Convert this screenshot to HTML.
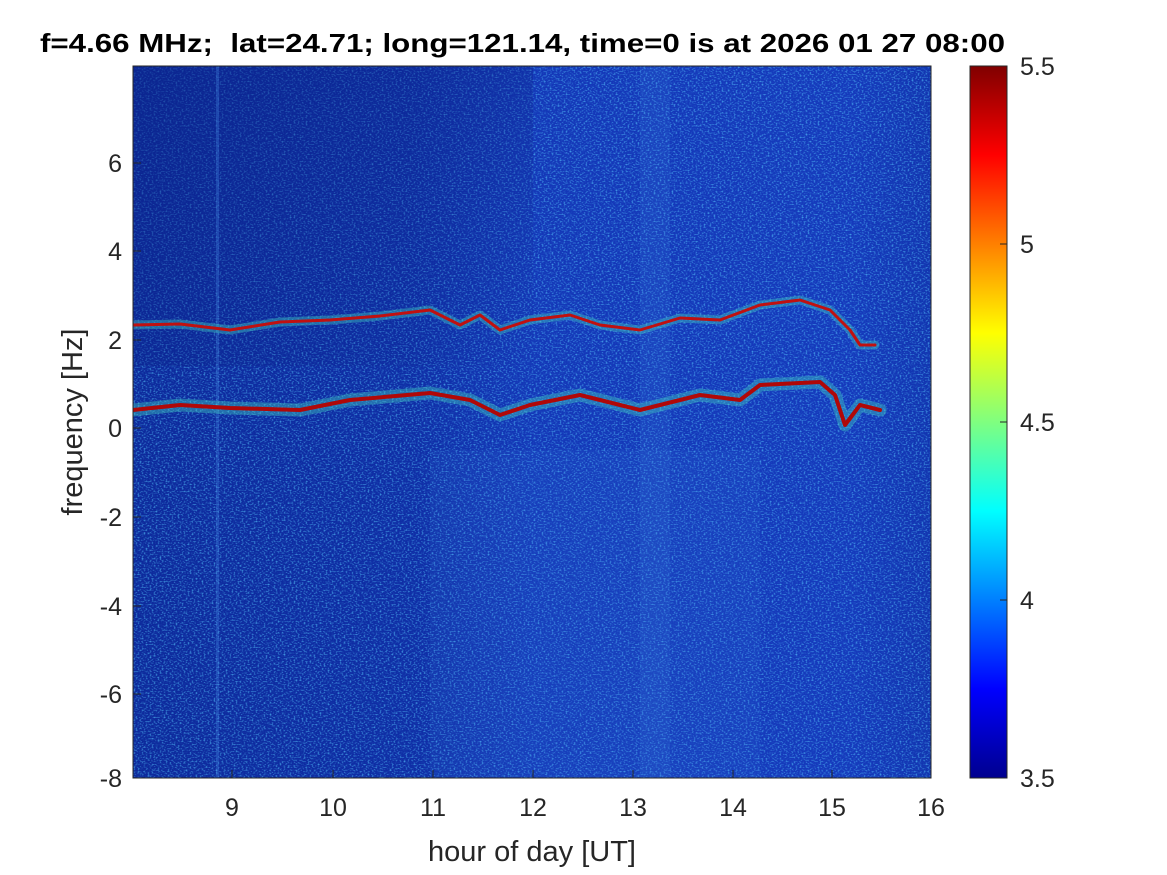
<!DOCTYPE html>
<html><head><meta charset="utf-8"><style>
body{margin:0;background:#fff;}
svg{display:block;font-family:"Liberation Sans",Arial,sans-serif;}
</style></head><body>
<svg width="1167" height="875" viewBox="0 0 1167 875" xmlns="http://www.w3.org/2000/svg">
<defs>
<filter id="nz" x="0" y="0" width="100%" height="100%">
<feTurbulence type="fractalNoise" baseFrequency="0.5 0.7" numOctaves="1" seed="3" result="t"/>
<feColorMatrix in="t" type="matrix" values="0 0 0 0 0.1  0 0 0 0 0.6  0 0 0 0 1  0 0 0 2.6 -1.25"/>
</filter>
<linearGradient id="bgx" x1="0" y1="0" x2="1" y2="0">
<stop offset="0" stop-color="#0d2a9c"/>
<stop offset="0.35" stop-color="#0f2ea6"/>
<stop offset="0.5" stop-color="#1438b8"/>
<stop offset="0.9" stop-color="#153abc"/>
<stop offset="1" stop-color="#1235b0"/>
</linearGradient>
<linearGradient id="tl" x1="0" y1="0" x2="1" y2="1">
<stop offset="0" stop-color="#0a2288" stop-opacity="0.6"/>
<stop offset="1" stop-color="#0a2288" stop-opacity="0"/>
</linearGradient>
<linearGradient id="jet" x1="0" y1="1" x2="0" y2="0">
<stop offset="0" stop-color="#00008f"/>
<stop offset="0.125" stop-color="#0000ff"/>
<stop offset="0.375" stop-color="#00ffff"/>
<stop offset="0.625" stop-color="#ffff00"/>
<stop offset="0.875" stop-color="#ff0000"/>
<stop offset="1" stop-color="#800000"/>
</linearGradient>
<clipPath id="pc"><rect x="133" y="66" width="798" height="712"/></clipPath>
</defs>
<rect x="133" y="66" width="798" height="712" fill="url(#bgx)"/>
<g clip-path="url(#pc)">
<rect x="133" y="66" width="798" height="712" filter="url(#nz)" opacity="0.75"/>
<rect x="133" y="66" width="400" height="300" fill="url(#tl)"/>
<rect x="640" y="66" width="30" height="712" fill="#3a80e0" opacity="0.15"/>
<rect x="430" y="450" width="330" height="328" fill="#3a80e0" opacity="0.1"/>
<rect x="216" y="66" width="3" height="712" fill="#4a90e8" opacity="0.3"/>
<g fill="none" stroke-linejoin="round" stroke-linecap="round">
<polyline stroke="#40d0c0" stroke-width="9" opacity="0.4" points="133,325 180,324 230,330 280,322 330,320 380,316 430,310 460,325 480,315 500,330 530,320 570,315 600,325 640,330 680,318 720,320 760,305 800,300 830,310 850,330 860,345 875,345"/>
<polyline stroke="#40d0c0" stroke-width="13" opacity="0.4" points="133,410 180,405 230,408 300,410 350,400 430,393 470,400 500,415 530,405 580,395 620,405 640,410 700,395 740,400 760,385 820,382 835,395 845,425 860,405 880,410"/>
<polyline stroke="#c01010" stroke-width="3" points="133,325 180,324 230,330 280,322 330,320 380,316 430,310 460,325 480,315 500,330 530,320 570,315 600,325 640,330 680,318 720,320 760,305 800,300 830,310 850,330 860,345 875,345"/>
<polyline stroke="#b00808" stroke-width="4" points="133,410 180,405 230,408 300,410 350,400 430,393 470,400 500,415 530,405 580,395 620,405 640,410 700,395 740,400 760,385 820,382 835,395 845,425 860,405 880,410"/>
</g>
</g>
<rect x="133" y="66" width="798" height="712" fill="none" stroke="#262626" stroke-width="1"/>
<g stroke="#262626" stroke-width="1">
<line x1="232" y1="778" x2="232" y2="770"/><line x1="333" y1="778" x2="333" y2="770"/><line x1="433" y1="778" x2="433" y2="770"/><line x1="533" y1="778" x2="533" y2="770"/><line x1="633" y1="778" x2="633" y2="770"/><line x1="733" y1="778" x2="733" y2="770"/><line x1="832" y1="778" x2="832" y2="770"/>
<line x1="133" y1="163" x2="141" y2="163"/><line x1="133" y1="251" x2="141" y2="251"/><line x1="133" y1="340" x2="141" y2="340"/><line x1="133" y1="428" x2="141" y2="428"/><line x1="133" y1="517" x2="141" y2="517"/><line x1="133" y1="606" x2="141" y2="606"/><line x1="133" y1="694" x2="141" y2="694"/>
</g>
<g font-size="25" fill="#262626" text-anchor="middle">
<text x="232" y="816">9</text><text x="333" y="816">10</text><text x="433" y="816">11</text><text x="533" y="816">12</text><text x="633" y="816">13</text><text x="733" y="816">14</text><text x="832" y="816">15</text><text x="931" y="816">16</text>
</g>
<g font-size="25" fill="#262626" text-anchor="end">
<text x="122" y="172">6</text><text x="122" y="260">4</text><text x="122" y="349">2</text><text x="122" y="437">0</text><text x="122" y="526">-2</text><text x="122" y="615">-4</text><text x="122" y="703">-6</text><text x="122" y="787">-8</text>
</g>
<text x="532" y="861" font-size="29" fill="#262626" text-anchor="middle">hour of day [UT]</text>
<text transform="translate(82,422) rotate(-90)" font-size="29" fill="#262626" text-anchor="middle">frequency [Hz]</text>
<text x="40" y="52" font-size="26" font-weight="bold" fill="#000" textLength="965" lengthAdjust="spacingAndGlyphs" xml:space="preserve">f=4.66 MHz;  lat=24.71; long=121.14, time=0 is at 2026 01 27 08:00</text>
<rect x="970" y="66" width="37" height="712" fill="url(#jet)" stroke="#262626" stroke-width="1"/>
<g stroke="#262626"><line x1="1000" y1="244" x2="1007" y2="244"/><line x1="1000" y1="422" x2="1007" y2="422"/><line x1="1000" y1="600" x2="1007" y2="600"/></g>
<g font-size="25" fill="#262626">
<text x="1020" y="75">5.5</text><text x="1020" y="253">5</text><text x="1020" y="431">4.5</text><text x="1020" y="609">4</text><text x="1020" y="787">3.5</text>
</g>
</svg>
</body></html>
